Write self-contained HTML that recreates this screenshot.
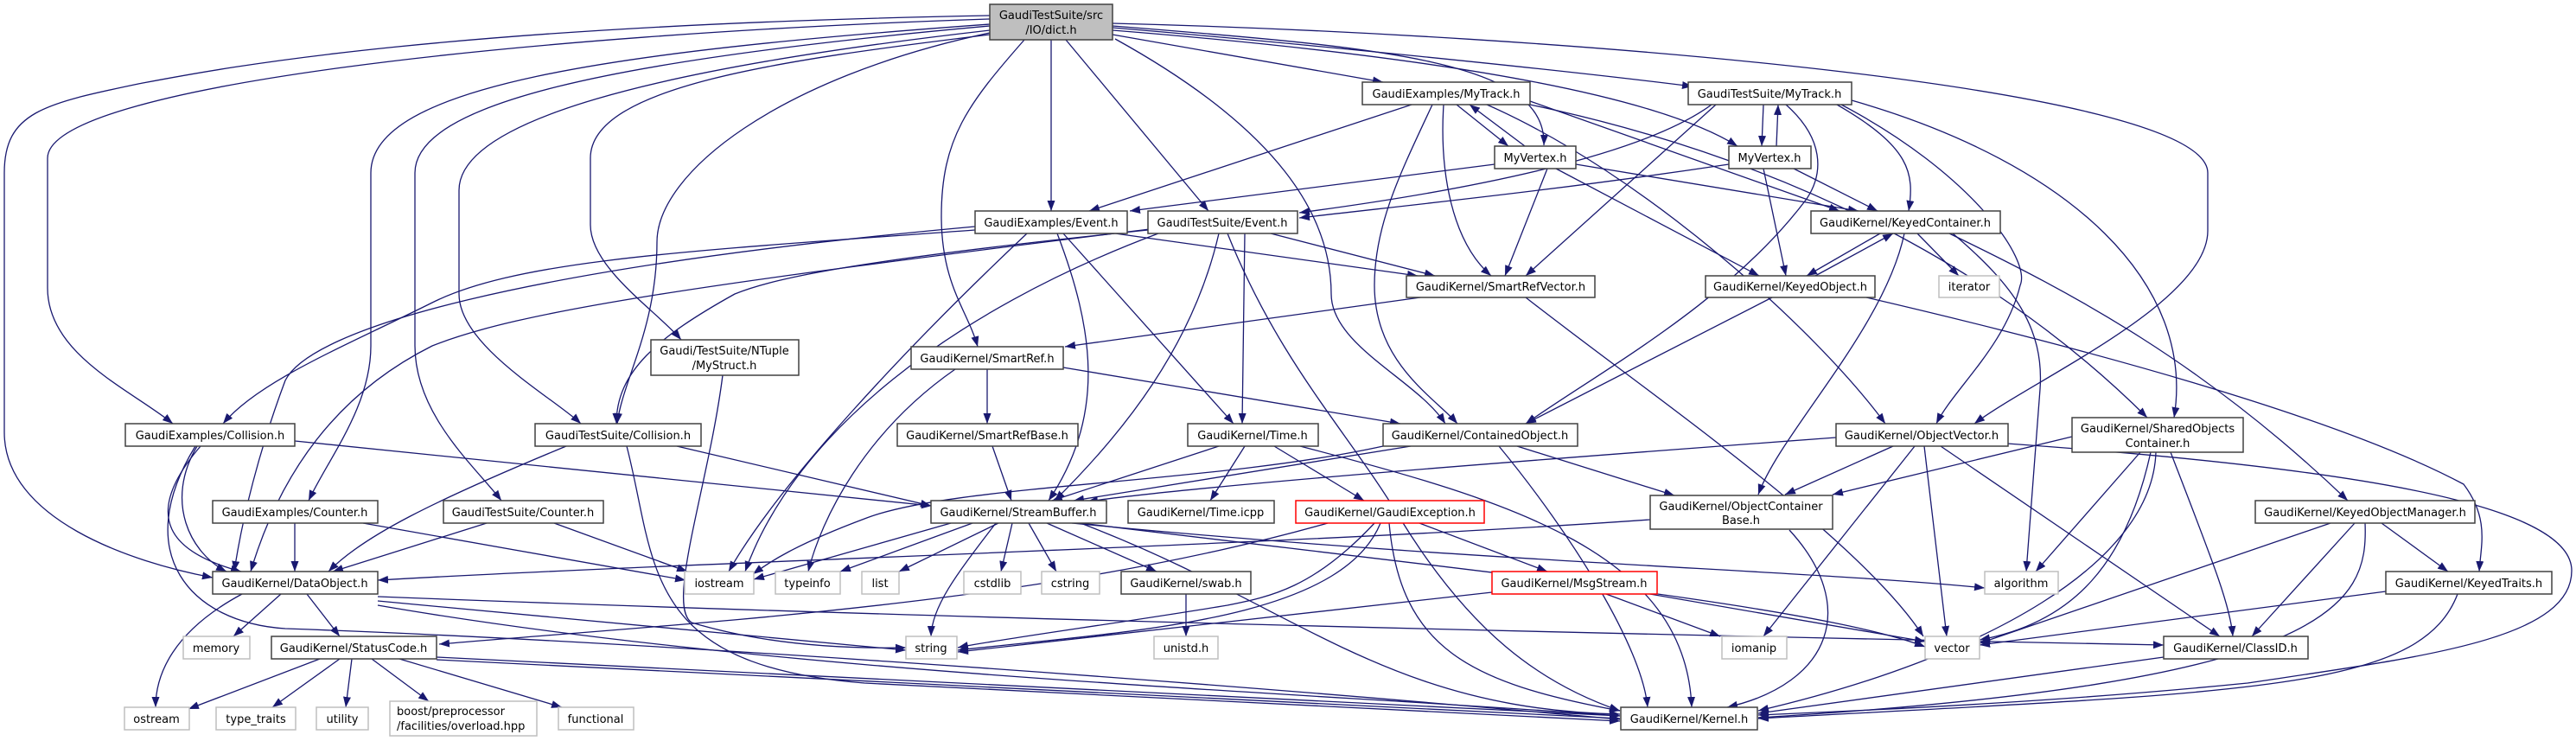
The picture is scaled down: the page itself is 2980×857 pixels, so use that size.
<!DOCTYPE html>
<html><head><meta charset="utf-8"><style>
html,body{margin:0;padding:0;background:#fff;}
svg{display:block;}
text{font-family:"DejaVu Sans","Liberation Sans",sans-serif;font-size:13px;fill:#000;}
.e{fill:none;stroke:#191970;stroke-width:1.3;marker-end:url(#a);}
.n{fill:#fff;stroke:#404040;stroke-width:1.5;}
.g{fill:#fff;stroke:#bfbfbf;stroke-width:1.5;}
.r{fill:#fff;stroke:#ff0000;stroke-width:1.5;}
</style></head><body>
<svg width="2980" height="857" viewBox="0 0 2980 857" xmlns="http://www.w3.org/2000/svg">
<defs><marker id="a" markerUnits="userSpaceOnUse" markerWidth="14" markerHeight="10" refX="12" refY="4.5" orient="auto"><path d="M0,0 L12,4.5 L0,9 z" fill="#191970"/></marker></defs>
<g>
<!-- dict.h edges -->
<path class="e" d="M1287,40 L1600,95"/>
<path class="e" d="M1287,32 C1500,50 1800,80 1958,100"/>
<path class="e" d="M1287,30 C1600,55 1790,70 1786,168"/>
<path class="e" d="M1287,35 C1600,60 1900,100 2010,169"/>
<path class="e" d="M1216,46 L1216,244"/>
<path class="e" d="M1233,46 L1398,244"/>
<path class="e" d="M1290,45 C1480,150 1540,250 1540,340 C1540,400 1640,440 1672,490"/>
<path class="e" d="M1185,46 C1120,120 1089,160 1089,250 C1089,330 1120,360 1131,401"/>
<path class="e" d="M1287,27 C1800,40 2554,100 2554,200 L2554,267 C2554,350 2350,440 2284,490"/>
<path class="e" d="M1145,40 C900,70 683,100 683,183 L683,260 C683,310 760,360 788,393"/>
<path class="e" d="M1145,22 C600,40 55,100 55,183 L55,333 C55,410 150,450 200,490"/>
<path class="e" d="M1145,18 C500,30 250,80 160,97 C50,120 5,130 5,200 L5,500 C5,600 150,650 246,668"/>
<path class="e" d="M1145,28 C700,60 429,100 429,200 L429,400 C429,470 380,530 357,579"/>
<path class="e" d="M1145,30 C700,70 480,120 480,200 L480,400 C480,480 550,540 580,579"/>
<path class="e" d="M1145,35 C750,80 531,140 531,220 L531,340 C531,400 640,460 672,490"/>
<path class="e" d="M1145,38 C900,90 760,200 760,280 C760,380 720,440 714,490"/>
<!-- Ex/Event -->
<path class="e" d="M1290,270 L1640,319"/>
<path class="e" d="M1223,270 C1265,380 1280,480 1213,579"/>
<path class="e" d="M1230,270 L1427,490"/>
<path class="e" d="M1188,270 C1050,400 900,560 843,661"/>
<path class="e" d="M1128,262 C600,310 360,380 330,440 C300,520 280,600 271,661"/>
<path class="e" d="M1128,266 C800,290 600,300 500,350 C400,400 300,440 258,490"/>
<!-- TS/Event -->
<path class="e" d="M1470,270 L1660,319"/>
<path class="e" d="M1440,270 L1437,490"/>
<path class="e" d="M1410,270 C1380,400 1300,500 1220,579"/>
<path class="e" d="M1420,270 C1480,420 1560,500 1620,600 C1700,730 1780,790 1874,822"/>
<path class="e" d="M1328,266 C1000,300 900,320 850,340 C760,390 713,430 713,490"/>
<path class="e" d="M1340,270 C1100,360 920,500 862,661"/>
<path class="e" d="M1330,265 C800,330 600,360 500,400 C380,460 320,560 290,661"/>
<!-- Ex/MyTrack -->
<path class="e" d="M1633,121 L1260,244"/>
<path class="e" d="M1685,121 L1745,169"/>
<path class="e" d="M1764,169 L1700,121"/>
<path class="e" d="M1670,121 C1665,200 1680,280 1725,319"/>
<path class="e" d="M1657,121 C1620,200 1590,260 1590,330 C1590,420 1660,460 1686,490"/>
<path class="e" d="M1770,117 L2128,244"/>
<path class="e" d="M1720,121 C1900,200 2100,380 2181,490"/>
<path class="e" d="M1770,121 C2050,180 2300,300 2484,483"/>
<!-- MyVertex L -->
<path class="e" d="M1729,190 L1307,244"/>
<path class="e" d="M1790,195 L1741,319"/>
<path class="e" d="M1800,195 L2035,319"/>
<path class="e" d="M1823,190 L2150,244"/>
<!-- TS/MyTrack -->
<path class="e" d="M2040,121 L2038,169"/>
<path class="e" d="M2055,169 L2057,121"/>
<path class="e" d="M1980,121 C1900,180 1700,220 1503,246"/>
<path class="e" d="M2000,190 C1800,220 1650,235 1503,252"/>
<path class="e" d="M1985,121 L1765,319"/>
<path class="e" d="M2125,121 C2210,170 2215,200 2208,244"/>
<path class="e" d="M2066,121 C2110,160 2110,200 2090,230 C2000,350 1850,430 1765,490"/>
<path class="e" d="M2130,121 C2280,200 2350,300 2337,330 C2320,400 2260,450 2240,490"/>
<path class="e" d="M2142,116 C2400,190 2540,330 2515,483"/>
<!-- MyVertex R -->
<path class="e" d="M2040,195 L2066,319"/>
<path class="e" d="M2075,195 L2172,244"/>
<!-- Keyed -->
<path class="e" d="M2159,344 C2400,400 2700,480 2850,560 C2880,600 2870,630 2868,661"/>
<path class="e" d="M2255,270 C2400,340 2550,420 2716,579"/>
<path class="e" d="M2259,270 C2330,330 2365,380 2360,450 L2344,661"/>
<path class="e" d="M2203,270 C2180,380 2060,500 2034,572"/>
<path class="e" d="M2218,270 L2266,319"/>
<path class="e" d="M2175,270 L2090,319"/>
<path class="e" d="M2100,319 L2190,270"/>
<path class="e" d="M2050,344 L1765,490"/>
<!-- ObjectVector / Shared -->
<path class="e" d="M2397,505 L2120,572"/>
<path class="e" d="M2190,516 L2065,572"/>
<path class="e" d="M2124,506 C1800,530 1400,560 1258,580"/>
<path class="e" d="M2215,516 L2040,736"/>
<path class="e" d="M2226,516 L2252,736"/>
<path class="e" d="M2245,516 L2568,736"/>
<path class="e" d="M2322,513 C2700,540 2975,580 2975,660 C2975,740 2800,760 2600,790 C2400,810 2200,820 2034,827"/>
<path class="e" d="M2476,523 L2355,661"/>
<path class="e" d="M2488,523 C2460,650 2400,720 2290,740"/>
<path class="e" d="M2494,523 C2490,650 2300,760 2034,822"/>
<path class="e" d="M2511,523 C2560,650 2580,700 2583,736"/>
<path class="e" d="M2696,605 L2290,744"/>
<path class="e" d="M2724,605 L2605,736"/>
<path class="e" d="M2755,605 L2832,661"/>
<path class="e" d="M2736,605 C2740,700 2700,790 2034,830"/>
<path class="e" d="M2760,684 L2290,746"/>
<path class="e" d="M2843,687 C2800,800 2600,800 2034,831"/>
<path class="e" d="M2503,760 L2034,825"/>
<path class="e" d="M2070,613 C2150,700 2120,790 1998,818"/>
<!-- Contained -->
<path class="e" d="M1734,516 C1820,620 1900,750 1906,818"/>
<path class="e" d="M1755,516 L1937,573"/>
<path class="e" d="M1632,516 L1242,579"/>
<path class="e" d="M1600,516 C1400,560 1100,560 1000,600 C920,630 890,650 871,664"/>
<!-- SmartRef -->
<path class="e" d="M1643,344 L1232,401"/>
<path class="e" d="M1765,344 C1900,450 2150,620 2225,736"/>
<path class="e" d="M1142,427 L1142,490"/>
<path class="e" d="M1230,425 L1620,490"/>
<path class="e" d="M1105,427 C1000,500 950,600 935,661"/>
<path class="e" d="M1148,516 L1170,579"/>
<!-- Time -->
<path class="e" d="M1410,516 L1217,579"/>
<path class="e" d="M1440,516 L1400,579"/>
<path class="e" d="M1474,516 L1578,579"/>
<path class="e" d="M1504,516 C1750,580 1950,640 1957,818"/>
<!-- GaudiException -->
<path class="e" d="M1590,605 C1520,680 1470,690 1420,700 C1300,720 1150,740 1108,749"/>
<path class="e" d="M1597,605 C1550,720 1300,730 1108,752"/>
<path class="e" d="M1536,605 C1200,700 800,720 508,745"/>
<path class="e" d="M1607,605 C1620,750 1700,790 1874,822"/>
<path class="e" d="M1642,605 L1790,661"/>
<path class="e" d="M1726,685 L1108,754"/>
<path class="e" d="M1858,687 L1990,736"/>
<path class="e" d="M1897,685 L2227,742"/>
<!-- StreamBuffer -->
<path class="e" d="M1100,605 L872,670"/>
<path class="e" d="M1125,605 L972,661"/>
<path class="e" d="M1155,605 L1040,661"/>
<path class="e" d="M1171,605 L1158,661"/>
<path class="e" d="M1190,605 L1222,661"/>
<path class="e" d="M1211,605 L1338,661"/>
<path class="e" d="M1152,605 C1110,660 1078,700 1077,736"/>
<path class="e" d="M1250,605 C1500,700 1600,820 1874,826"/>
<path class="e" d="M1240,605 C1700,650 2100,660 2296,680"/>
<path class="e" d="M1250,605 C1700,660 2100,700 2227,748"/>
<path class="e" d="M1909,601 C1500,630 800,650 437,671"/>
<path class="e" d="M1372,687 L1372,736"/>
<!-- DataObject -->
<path class="e" d="M325,687 L270,736"/>
<path class="e" d="M355,687 L393,736"/>
<path class="e" d="M280,687 C200,730 180,780 180,818"/>
<path class="e" d="M437,695 C700,720 900,740 1048,752"/>
<path class="e" d="M437,690 C1200,720 2200,740 2503,746"/>
<path class="e" d="M437,700 C900,780 1500,800 1874,828"/>
<!-- StatusCode -->
<path class="e" d="M370,762 L218,820"/>
<path class="e" d="M393,762 L315,818"/>
<path class="e" d="M407,762 L400,818"/>
<path class="e" d="M430,762 L496,811"/>
<path class="e" d="M462,762 L650,818"/>
<path class="e" d="M505,760 L1874,828"/>
<path class="e" d="M505,763 L1874,831"/>
<!-- Collision / Counter -->
<path class="e" d="M228,516 C190,580 220,640 262,661"/>
<path class="e" d="M232,516 C160,600 200,640 279,661"/>
<path class="e" d="M341,510 L1078,585"/>
<path class="e" d="M226,516 C150,640 220,720 330,727 C700,740 1300,780 1874,832"/>
<path class="e" d="M655,516 C500,580 420,620 380,661"/>
<path class="e" d="M783,516 L1077,585"/>
<path class="e" d="M725,516 C760,650 740,770 1000,790 C1400,810 1700,825 1874,834"/>
<path class="e" d="M341,605 L341,661"/>
<path class="e" d="M420,605 L793,671"/>
<path class="e" d="M563,605 L385,661"/>
<path class="e" d="M641,605 L795,661"/>
<path class="e" d="M836,434 C820,560 770,700 800,720 C900,750 1000,750 1048,749"/>
</g>
<!-- nodes -->
<g>
<rect x="1145" y="5" width="142" height="41" style="fill:#bfbfbf;stroke:#404040;stroke-width:1.5"/>
<text x="1216" y="22" text-anchor="middle">GaudiTestSuite/src</text><text x="1216" y="39" text-anchor="middle">/IO/dict.h</text>

<rect class="n" x="1576" y="95" width="194" height="26"/><text x="1673" y="113" text-anchor="middle">GaudiExamples/MyTrack.h</text>
<rect class="n" x="1953" y="95" width="189" height="26"/><text x="2047" y="113" text-anchor="middle">GaudiTestSuite/MyTrack.h</text>
<rect class="n" x="1729" y="169" width="94" height="26"/><text x="1776" y="187" text-anchor="middle">MyVertex.h</text>
<rect class="n" x="2000" y="169" width="95" height="26"/><text x="2047" y="187" text-anchor="middle">MyVertex.h</text>
<rect class="n" x="1128" y="244" width="176" height="26"/><text x="1216" y="262" text-anchor="middle">GaudiExamples/Event.h</text>
<rect class="n" x="1328" y="244" width="173" height="26"/><text x="1414" y="262" text-anchor="middle">GaudiTestSuite/Event.h</text>
<rect class="n" x="2095" y="244" width="219" height="26"/><text x="2204" y="262" text-anchor="middle">GaudiKernel/KeyedContainer.h</text>
<rect class="n" x="1627" y="319" width="218" height="25"/><text x="1736" y="336" text-anchor="middle">GaudiKernel/SmartRefVector.h</text>
<rect class="n" x="1973" y="319" width="196" height="25"/><text x="2071" y="336" text-anchor="middle">GaudiKernel/KeyedObject.h</text>
<rect class="g" x="2243" y="319" width="70" height="25"/><text x="2278" y="336" text-anchor="middle">iterator</text>
<rect class="n" x="1054" y="401" width="176" height="26"/><text x="1142" y="419" text-anchor="middle">GaudiKernel/SmartRef.h</text>
<rect class="n" x="753" y="393" width="171" height="41"/><text x="838" y="410" text-anchor="middle">Gaudi/TestSuite/NTuple</text><text x="838" y="427" text-anchor="middle">/MyStruct.h</text>
<rect class="n" x="145" y="490" width="196" height="26"/><text x="243" y="508" text-anchor="middle">GaudiExamples/Collision.h</text>
<rect class="n" x="619" y="490" width="192" height="26"/><text x="715" y="508" text-anchor="middle">GaudiTestSuite/Collision.h</text>
<rect class="n" x="1038" y="490" width="209" height="26"/><text x="1142" y="508" text-anchor="middle">GaudiKernel/SmartRefBase.h</text>
<rect class="n" x="1374" y="490" width="151" height="26"/><text x="1449" y="508" text-anchor="middle">GaudiKernel/Time.h</text>
<rect class="n" x="1600" y="490" width="225" height="26"/><text x="1712" y="508" text-anchor="middle">GaudiKernel/ContainedObject.h</text>
<rect class="n" x="2124" y="490" width="199" height="26"/><text x="2223" y="508" text-anchor="middle">GaudiKernel/ObjectVector.h</text>
<rect class="n" x="2397" y="483" width="198" height="40"/><text x="2496" y="500" text-anchor="middle">GaudiKernel/SharedObjects</text><text x="2496" y="517" text-anchor="middle">Container.h</text>
<rect class="n" x="1909" y="573" width="211" height="39"/><text x="2014" y="590" text-anchor="middle">GaudiKernel/ObjectContainer</text><text x="2014" y="606" text-anchor="middle">Base.h</text>
<rect class="n" x="246" y="579" width="191" height="26"/><text x="341" y="597" text-anchor="middle">GaudiExamples/Counter.h</text>
<rect class="n" x="513" y="579" width="185" height="26"/><text x="605" y="597" text-anchor="middle">GaudiTestSuite/Counter.h</text>
<rect class="n" x="1077" y="579" width="203" height="26"/><text x="1178" y="597" text-anchor="middle">GaudiKernel/StreamBuffer.h</text>
<rect class="n" x="1305" y="579" width="169" height="26"/><text x="1389" y="597" text-anchor="middle">GaudiKernel/Time.icpp</text>
<rect class="r" x="1499" y="579" width="218" height="26"/><text x="1608" y="597" text-anchor="middle">GaudiKernel/GaudiException.h</text>
<rect class="n" x="2609" y="579" width="254" height="26"/><text x="2736" y="597" text-anchor="middle">GaudiKernel/KeyedObjectManager.h</text>
<rect class="n" x="246" y="661" width="191" height="26"/><text x="341" y="679" text-anchor="middle">GaudiKernel/DataObject.h</text>
<rect class="g" x="792" y="661" width="80" height="26"/><text x="832" y="679" text-anchor="middle">iostream</text>
<rect class="g" x="897" y="661" width="75" height="26"/><text x="934" y="679" text-anchor="middle">typeinfo</text>
<rect class="g" x="997" y="661" width="43" height="26"/><text x="1018" y="679" text-anchor="middle">list</text>
<rect class="g" x="1115" y="661" width="66" height="26"/><text x="1148" y="679" text-anchor="middle">cstdlib</text>
<rect class="g" x="1205" y="661" width="67" height="26"/><text x="1238" y="679" text-anchor="middle">cstring</text>
<rect class="n" x="1297" y="661" width="150" height="26"/><text x="1372" y="679" text-anchor="middle">GaudiKernel/swab.h</text>
<rect class="r" x="1726" y="661" width="191" height="26"/><text x="1821" y="679" text-anchor="middle">GaudiKernel/MsgStream.h</text>
<rect class="g" x="2296" y="661" width="85" height="26"/><text x="2338" y="679" text-anchor="middle">algorithm</text>
<rect class="n" x="2760" y="661" width="192" height="26"/><text x="2856" y="679" text-anchor="middle">GaudiKernel/KeyedTraits.h</text>
<rect class="g" x="212" y="736" width="77" height="26"/><text x="250" y="754" text-anchor="middle">memory</text>
<rect class="n" x="314" y="736" width="191" height="26"/><text x="409" y="754" text-anchor="middle">GaudiKernel/StatusCode.h</text>
<rect class="g" x="1048" y="736" width="59" height="26"/><text x="1077" y="754" text-anchor="middle">string</text>
<rect class="g" x="1335" y="736" width="74" height="26"/><text x="1372" y="754" text-anchor="middle">unistd.h</text>
<rect class="g" x="1992" y="736" width="75" height="26"/><text x="2029" y="754" text-anchor="middle">iomanip</text>
<rect class="g" x="2227" y="736" width="63" height="26"/><text x="2258" y="754" text-anchor="middle">vector</text>
<rect class="n" x="2503" y="736" width="167" height="26"/><text x="2586" y="754" text-anchor="middle">GaudiKernel/ClassID.h</text>
<rect class="g" x="144" y="818" width="75" height="26"/><text x="181" y="836" text-anchor="middle">ostream</text>
<rect class="g" x="250" y="818" width="92" height="26"/><text x="296" y="836" text-anchor="middle">type_traits</text>
<rect class="g" x="366" y="818" width="60" height="26"/><text x="396" y="836" text-anchor="middle">utility</text>
<rect class="g" x="451" y="811" width="170" height="40"/><text x="459" y="827">boost/preprocessor</text><text x="459" y="844">/facilities/overload.hpp</text>
<rect class="g" x="646" y="818" width="87" height="26"/><text x="689" y="836" text-anchor="middle">functional</text>
<rect class="n" x="1875" y="818" width="158" height="26"/><text x="1954" y="836" text-anchor="middle">GaudiKernel/Kernel.h</text>
</g>
</svg>
</body></html>
